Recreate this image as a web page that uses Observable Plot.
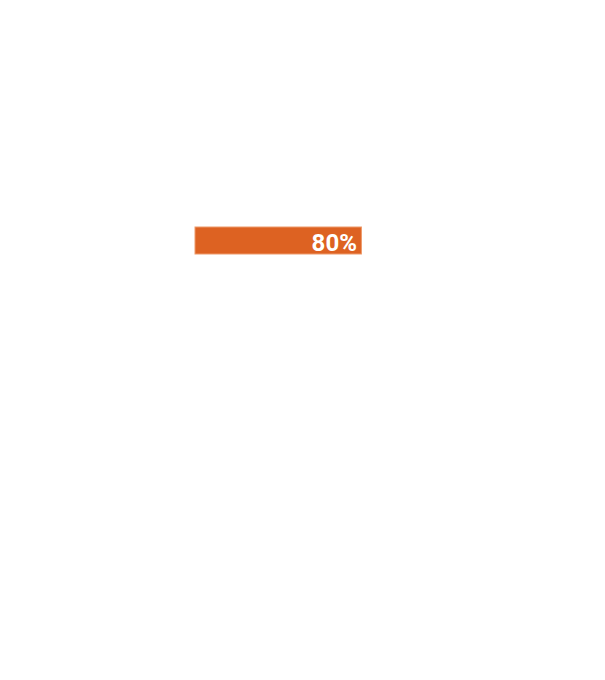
<!DOCTYPE html>
<html>
<head>
<meta charset="utf-8">
<script src="https://cdn.jsdelivr.net/npm/d3@7"></script>
<script src="https://cdn.jsdelivr.net/npm/@observablehq/plot@0.6"></script>
<style>
  html, body { margin: 0; padding: 0; background: #ffffff; }
  #chart svg { display: block; }
</style>
</head>
<body>
<div id="chart"></div>
<script>
const categories = ["Progress"];
const values = [80];
const labels = ["80%"];

const data = categories.map((c, i) => ({ category: c, value: values[i], label: labels[i] }));

const chart = Plot.plot({
  width: 605,
  height: 680,
  margin: 0,
  style: { background: "#ffffff", fontFamily: "Roboto, sans-serif" },
  x: { domain: [0, 100], range: [195, 403], axis: null },
  y: { domain: categories, range: [227, 254], padding: 0, axis: null },
  marks: [
    Plot.barX(data, {
      y: "category",
      x1: 0,
      x2: "value",
      fill: "#DD6222",
      stroke: "#EE9A6A",
      strokeWidth: 1
    }),
    Plot.text(data, {
      y: "category",
      x: "value",
      text: "label",
      textAnchor: "end",
      dx: -5,
      dy: 2,
      fill: "#ffffff",
      fontWeight: "bold",
      fontSize: 24
    })
  ]
});
document.getElementById("chart").appendChild(chart);
</script>
</body>
</html>
